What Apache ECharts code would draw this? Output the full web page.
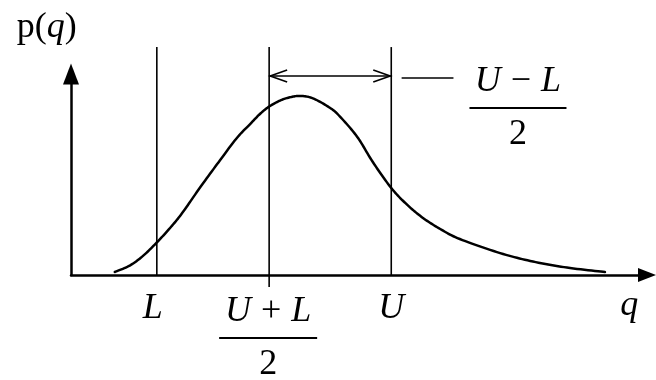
<!DOCTYPE html>
<html><head><meta charset="utf-8">
<script src="https://cdn.jsdelivr.net/npm/echarts@6/dist/echarts.min.js"></script>
<style>html,body{margin:0;padding:0;background:#fff}#c{width:656px;height:380px}</style>
</head><body><div id="c"></div>
<script>
// ---- data (abstract units: q along x, p(q) along y) ----
const curveQ = [0.76, 1.02, 1.25, 1.49, 1.72, 1.93, 2.24, 2.59, 2.88, 3.11, 3.28, 3.44, 3.63, 3.80, 3.98, 4.20, 4.50, 4.67, 4.97, 5.24, 5.56, 5.83, 6.11, 6.41, 6.75, 7.45, 8.02, 8.61, 9.27];
const curveP = [0.015, 0.047, 0.095, 0.162, 0.234, 0.308, 0.435, 0.572, 0.682, 0.751, 0.801, 0.838, 0.868, 0.884, 0.891, 0.879, 0.831, 0.788, 0.687, 0.562, 0.433, 0.351, 0.284, 0.229, 0.179, 0.109, 0.067, 0.037, 0.015];
const markerQ = [1.49, 3.44, 5.56];
const markerTop = [1.134, 1.134, 1.134];
const markerBottom = [0, -0.06, 0];
const xLabelQ = [1.49, 3.44, 5.56, 9.69];
const xLabelNum = ['L', 'U + L', 'U', 'q'];
const xLabelDen = ['', '2', '', ''];
const spanRange = [3.44, 5.56, 0.99];
const leaderRange = [5.74, 6.64, 0.98];
const spanLabelPos = [7.76, 0.831];
const spanLabelNum = 'U − L';
const spanLabelDen = '2';
const yTitleFunc = 'p';
const yTitleArg = 'q';
const yTitlePos = [-0.42, 1.229];

const SERIF = '"Liberation Serif", "Times New Roman", serif';
const FS = 36;
const rich = {
  i: {fontFamily: SERIF, fontStyle: 'italic', fontSize: FS, fill: '#000'},
  r: {fontFamily: SERIF, fontSize: FS, fill: '#000'},
  t: {fontFamily: SERIF, fontSize: 36, fill: '#000'},
  ti: {fontFamily: SERIF, fontStyle: 'italic', fontSize: 36, fill: '#000'},
  op: {fontFamily: SERIF, fontSize: FS, fill: '#000', padding: [0, 10]}
};
function mathText(s) {
  return s.split(' ').map(function (t) {
    if (/^[A-Za-z]$/.test(t)) return '{i|' + t + '}';
    if (/^[0-9]+$/.test(t)) return '{r|' + t + '}';
    return '{op|' + t + '}';
  }).join('');
}
function textEl(x, y, str) {
  return {type: 'text', style: {text: str, rich: rich, x: x, y: y, align: 'center', verticalAlign: 'middle'}};
}
function fraction(cx, barY, num, den, w) {
  return [
    textEl(cx, barY - 26, mathText(num)),
    {type: 'line', shape: {x1: cx - w / 2, y1: barY, x2: cx + w / 2, y2: barY}, style: {stroke: '#000', lineWidth: 2}},
    textEl(cx, barY + 27, mathText(den))
  ];
}
// Catmull-Rom sampling between the plotted (pixel) points, for a smooth stroke
function spline(pts, steps) {
  const out = [];
  const n = pts.length;
  for (let i = 0; i < n - 1; i++) {
    const p0 = pts[Math.max(i - 1, 0)], p1 = pts[i], p2 = pts[i + 1], p3 = pts[Math.min(i + 2, n - 1)];
    for (let s = 0; s < steps; s++) {
      const t = s / steps, t2 = t * t, t3 = t2 * t;
      const f = function (k) {
        return 0.5 * ((2 * p1[k]) + (-p0[k] + p2[k]) * t + (2 * p0[k] - 5 * p1[k] + 4 * p2[k] - p3[k]) * t2 + (-p0[k] + 3 * p1[k] - 3 * p2[k] + p3[k]) * t3);
      };
      out.push([f(0), f(1)]);
    }
  }
  out.push(pts[n - 1]);
  return out;
}

const chart = echarts.init(document.getElementById('c'), null, {renderer: 'canvas'});
const axisCommon = {
  type: 'value',
  axisTick: {show: false},
  axisLabel: {show: false},
  splitLine: {show: false}
};
const option = {
  animation: false,
  backgroundColor: '#fff',
  grid: {left: 71, right: 9, top: 74, bottom: 105},
  xAxis: Object.assign({}, axisCommon, {
    min: 0, max: 10,
    axisLine: {show: true, symbol: ['none', 'triangle'], symbolSize: [14, 18], lineStyle: {color: '#000', width: 2.5}}
  }),
  yAxis: Object.assign({}, axisCommon, {
    min: 0, max: 1,
    axisLine: {show: true, symbol: ['none', 'triangle'], symbolSize: [16, 21], lineStyle: {color: '#000', width: 2.5}}
  }),
  series: [
    {
      type: 'custom',
      clip: false,
      data: curveQ.map(function (q, i) { return [q, curveP[i]]; }),
      renderItem: function (params, api) {
        if (params.dataIndex !== 0) return null;
        const pts = [];
        for (let j = 0; j < curveQ.length; j++) {
          pts.push(api.coord([api.value(0, j), api.value(1, j)]));
        }
        return {type: 'polyline', shape: {points: spline(pts, 12)}, style: {stroke: '#000', lineWidth: 2.5, fill: 'none', lineJoin: 'round', lineCap: 'round'}};
      }
    },
    {
      type: 'custom',
      clip: false,
      data: markerQ.map(function (q, i) { return [q, markerTop[i], markerBottom[i]]; }),
      renderItem: function (params, api) {
        const a = api.coord([api.value(0), api.value(1)]);
        const b = api.coord([api.value(0), api.value(2)]);
        return {type: 'line', shape: {x1: a[0], y1: a[1], x2: b[0], y2: b[1]}, style: {stroke: '#000', lineWidth: 1.6}};
      }
    },
    {
      type: 'custom',
      clip: false,
      data: [spanRange],
      renderItem: function (params, api) {
        const a = api.coord([api.value(0), api.value(2)]);
        const b = api.coord([api.value(1), api.value(2)]);
        const st = {stroke: '#000', lineWidth: 1.6, fill: 'none'};
        return {type: 'group', children: [
          {type: 'line', shape: {x1: a[0], y1: a[1], x2: b[0], y2: b[1]}, style: st},
          {type: 'polyline', shape: {points: [[a[0] + 18, a[1] - 6], [a[0] + 1, a[1]], [a[0] + 18, a[1] + 6]]}, style: st},
          {type: 'polyline', shape: {points: [[b[0] - 18, b[1] - 6], [b[0] - 1, b[1]], [b[0] - 18, b[1] + 6]]}, style: st}
        ]};
      }
    },
    {
      type: 'custom',
      clip: false,
      data: [leaderRange],
      renderItem: function (params, api) {
        const a = api.coord([api.value(0), api.value(2)]);
        const b = api.coord([api.value(1), api.value(2)]);
        return {type: 'line', shape: {x1: a[0], y1: a[1], x2: b[0], y2: b[1]}, style: {stroke: '#000', lineWidth: 1.6}};
      }
    },
    {
      type: 'custom',
      clip: false,
      data: xLabelQ.map(function (q, i) { return [q, i]; }),
      renderItem: function (params, api) {
        const i = api.value(1);
        const p = api.coord([api.value(0), 0]);
        if (xLabelDen[i]) {
          return {type: 'group', children: fraction(p[0] - 1, p[1] + 63, xLabelNum[i], xLabelDen[i], 98)};
        }
        let dx = 0, dy = 34;
        if (xLabelNum[i] === 'L') dx = -4;
        if (xLabelNum[i] === 'q') dy = 31;
        return textEl(p[0] + dx, p[1] + dy, mathText(xLabelNum[i]));
      }
    },
    {
      type: 'custom',
      clip: false,
      data: [spanLabelPos],
      renderItem: function (params, api) {
        const p = api.coord([api.value(0), api.value(1)]);
        return {type: 'group', children: fraction(p[0], p[1], spanLabelNum, spanLabelDen, 97)};
      }
    },
    {
      type: 'custom',
      clip: false,
      data: [yTitlePos],
      renderItem: function (params, api) {
        const p = api.coord([api.value(0), api.value(1)]);
        return textEl(p[0], p[1], '{t|' + yTitleFunc + '(}{ti|' + yTitleArg + '}{t|)}');
      }
    }
  ]
};
chart.setOption(option);
</script>
</body></html>
